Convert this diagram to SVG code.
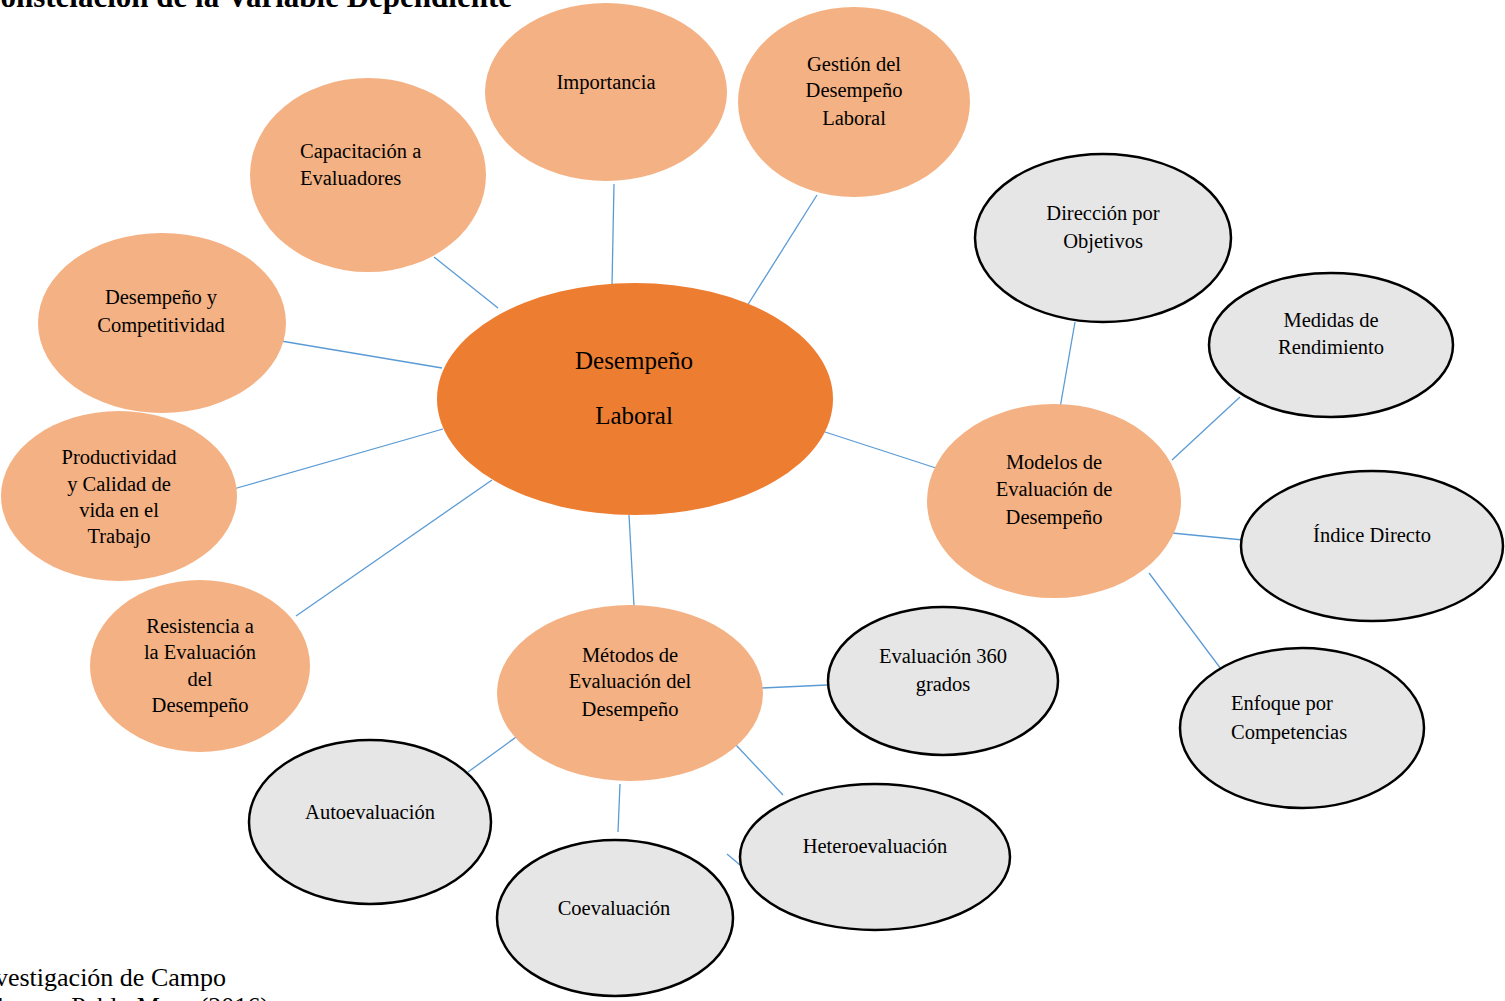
<svg xmlns="http://www.w3.org/2000/svg" width="1505" height="1001" viewBox="0 0 1505 1001">
  <style>
    text { font-family: "Liberation Serif", "Times New Roman", serif; fill: #000; }
    .lbl { font-size: 20.5px; text-anchor: middle; }
    .core { fill: #ED7D31; }
    .sub { fill: #F4B183; }
    .leaf { fill: #E7E6E6; stroke: #000; stroke-width: 2.5; }
    .link { stroke: #5B9BD5; stroke-width: 1.3; fill: none; }
  </style>
  <rect width="1505" height="1001" fill="#fff"/>

  <!-- caption -->
  <text x="512" y="7" font-size="31" font-weight="bold" text-anchor="end">Constelación de la Variable Dependiente</text>

  <!-- connectors -->
  <g id="connectors">
    <line class="link" x1="614" y1="184" x2="612" y2="286"/>
    <line class="link" x1="817" y1="195" x2="747" y2="306"/>
    <line class="link" x1="434" y1="257" x2="498" y2="308"/>
    <line class="link" x1="281" y1="341" x2="442" y2="368"/>
    <line class="link" x1="230" y1="490" x2="443" y2="429"/>
    <line class="link" x1="296" y1="616" x2="492" y2="480"/>
    <line class="link" x1="629" y1="515" x2="634" y2="606"/>
    <line class="link" x1="822" y1="431" x2="939" y2="469"/>
    <line class="link" x1="1075" y1="322" x2="1060" y2="408"/>
    <line class="link" x1="1240" y1="397" x2="1172" y2="460"/>
    <line class="link" x1="1172" y1="533" x2="1243" y2="540"/>
    <line class="link" x1="1149" y1="573" x2="1224" y2="673"/>
    <line class="link" x1="762" y1="688" x2="827" y2="685"/>
    <line class="link" x1="736" y1="745" x2="783" y2="795"/>
    <line class="link" x1="620" y1="784" x2="618" y2="832"/>
    <line class="link" x1="523" y1="732" x2="468" y2="772"/>
    <line class="link" x1="727" y1="854" x2="740" y2="865"/>
  </g>

  <!-- central concept -->
  <g id="desempeno-laboral">
    <ellipse class="core" cx="635" cy="399" rx="198" ry="116"/>
    <text x="634" y="369" font-size="25" text-anchor="middle">Desempeño</text>
    <text x="634" y="424" font-size="25" text-anchor="middle">Laboral</text>
  </g>

  <g id="importancia">
    <ellipse class="sub" cx="606" cy="92" rx="121" ry="89"/>
    <text class="lbl" x="606" y="89">Importancia</text>
  </g>

  <g id="gestion">
    <ellipse class="sub" cx="854" cy="102" rx="116" ry="95"/>
    <text class="lbl" x="854" y="71">Gestión del</text>
    <text class="lbl" x="854" y="97">Desempeño</text>
    <text class="lbl" x="854" y="125">Laboral</text>
  </g>

  <g id="capacitacion">
    <ellipse class="sub" cx="368" cy="175" rx="118" ry="97"/>
    <text x="300" y="158" font-size="20.5">Capacitación a</text>
    <text x="300" y="185" font-size="20.5">Evaluadores</text>
  </g>

  <g id="competitividad">
    <ellipse class="sub" cx="162" cy="323" rx="124" ry="90"/>
    <text class="lbl" x="161" y="304">Desempeño y</text>
    <text class="lbl" x="161" y="332">Competitividad</text>
  </g>

  <g id="productividad">
    <ellipse class="sub" cx="119" cy="496" rx="118" ry="85"/>
    <text class="lbl" x="119" y="464">Productividad</text>
    <text class="lbl" x="119" y="491">y Calidad de</text>
    <text class="lbl" x="119" y="517">vida en el</text>
    <text class="lbl" x="119" y="543">Trabajo</text>
  </g>

  <g id="resistencia">
    <ellipse class="sub" cx="200" cy="666" rx="110" ry="86"/>
    <text class="lbl" x="200" y="633">Resistencia a</text>
    <text class="lbl" x="200" y="659">la Evaluación</text>
    <text class="lbl" x="200" y="686">del</text>
    <text class="lbl" x="200" y="712">Desempeño</text>
  </g>

  <g id="metodos">
    <ellipse class="sub" cx="630" cy="693" rx="133" ry="88"/>
    <text class="lbl" x="630" y="662">Métodos de</text>
    <text class="lbl" x="630" y="688">Evaluación del</text>
    <text class="lbl" x="630" y="716">Desempeño</text>
  </g>

  <g id="modelos">
    <ellipse class="sub" cx="1054" cy="501" rx="127" ry="97"/>
    <text class="lbl" x="1054" y="469">Modelos de</text>
    <text class="lbl" x="1054" y="496">Evaluación de</text>
    <text class="lbl" x="1054" y="524">Desempeño</text>
  </g>

  <g id="direccion-objetivos">
    <ellipse class="leaf" cx="1103" cy="238" rx="128" ry="84"/>
    <text class="lbl" x="1103" y="220">Dirección por</text>
    <text class="lbl" x="1103" y="248">Objetivos</text>
  </g>

  <g id="medidas-rendimiento">
    <ellipse class="leaf" cx="1331" cy="345" rx="122" ry="72"/>
    <text class="lbl" x="1331" y="327">Medidas de</text>
    <text class="lbl" x="1331" y="354">Rendimiento</text>
  </g>

  <g id="indice-directo">
    <ellipse class="leaf" cx="1372" cy="546" rx="131" ry="75"/>
    <text class="lbl" x="1372" y="542">Índice Directo</text>
  </g>

  <g id="enfoque-competencias">
    <ellipse class="leaf" cx="1302" cy="728" rx="122" ry="80"/>
    <text x="1231" y="710" font-size="20.5">Enfoque por</text>
    <text x="1231" y="739" font-size="20.5">Competencias</text>
  </g>

  <g id="evaluacion-360">
    <ellipse class="leaf" cx="943" cy="681" rx="115" ry="74"/>
    <text class="lbl" x="943" y="663">Evaluación 360</text>
    <text class="lbl" x="943" y="691">grados</text>
  </g>

  <g id="heteroevaluacion">
    <ellipse class="leaf" cx="875" cy="857" rx="135" ry="73"/>
    <text class="lbl" x="875" y="853">Heteroevaluación</text>
  </g>

  <g id="coevaluacion">
    <ellipse class="leaf" cx="615" cy="918" rx="118" ry="78"/>
    <text class="lbl" x="614" y="915">Coevaluación</text>
  </g>

  <g id="autoevaluacion">
    <ellipse class="leaf" cx="370" cy="822" rx="121" ry="82"/>
    <text class="lbl" x="370" y="819">Autoevaluación</text>
  </g>

  <!-- source note -->
  <text x="226" y="986" font-size="26" text-anchor="end">Fuente: Investigación de Campo</text>
  <text x="269" y="1015" font-size="26" text-anchor="end">Elaborado por: Pablo Mora (2016)</text>
</svg>
